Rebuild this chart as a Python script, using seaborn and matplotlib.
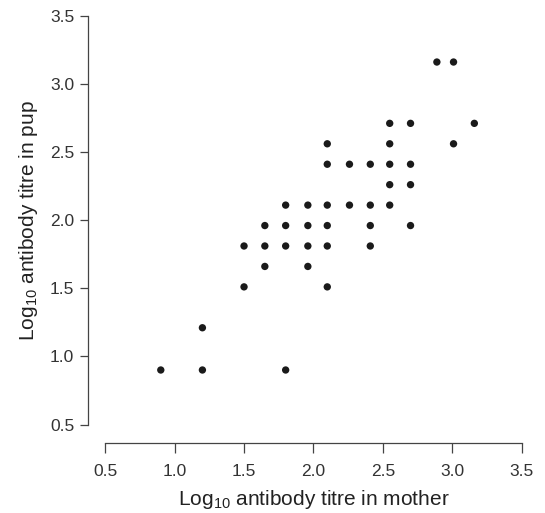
import matplotlib
matplotlib.use("Agg")
import matplotlib.pyplot as plt
import seaborn as sns
import pandas as pd

# Log10 antibody titre in mother (x) and pup (y)
mother = [2.89, 3.01,
          2.55, 2.70, 3.16,
          2.10, 2.55, 3.01,
          2.10, 2.26, 2.41, 2.55, 2.70,
          2.55, 2.70,
          1.80, 1.96, 2.10, 2.26, 2.41, 2.55,
          1.65, 1.80, 1.96, 2.10, 2.41, 2.70,
          1.50, 1.65, 1.80, 1.96, 2.10, 2.41,
          1.65, 1.96,
          1.50, 2.10,
          1.20,
          0.90, 1.20, 1.80]
pup = [3.16, 3.16,
       2.71, 2.71, 2.71,
       2.56, 2.56, 2.56,
       2.41, 2.41, 2.41, 2.41, 2.41,
       2.26, 2.26,
       2.11, 2.11, 2.11, 2.11, 2.11, 2.11,
       1.96, 1.96, 1.96, 1.96, 1.96, 1.96,
       1.81, 1.81, 1.81, 1.81, 1.81, 1.81,
       1.66, 1.66,
       1.51, 1.51,
       1.21,
       0.90, 0.90, 0.90]
ticks = [0.5, 1.0, 1.5, 2.0, 2.5, 3.0, 3.5]
tick_labels = ["0.5", "1.0", "1.5", "2.0", "2.5", "3.0", "3.5"]

df = pd.DataFrame({"mother": mother, "pup": pup})

sns.set_style("white")
plt.rcParams["font.family"] = ["Liberation Sans", "DejaVu Sans"]
plt.rcParams["mathtext.fontset"] = "custom"
plt.rcParams["mathtext.rm"] = "Liberation Sans"
plt.rcParams["mathtext.it"] = "Liberation Sans:italic"

fig = plt.figure(figsize=(5.45, 5.13), dpi=100)
ax = fig.add_axes([0.1932, 0.1725, 0.7637, 0.7969])

sns.scatterplot(data=df, x="mother", y="pup", ax=ax, color="#1a1a1a",
                s=28, edgecolor="none", linewidth=0)

ax.set_xlim(0.5, 3.5)
ax.set_ylim(0.5, 3.5)
ax.set_xticks(ticks)
ax.set_xticklabels(tick_labels)
ax.set_yticks(ticks)
ax.set_yticklabels(tick_labels)

for side in ["top", "right"]:
    ax.spines[side].set_visible(False)
ax.spines["left"].set_position(("outward", 12.5))
ax.spines["bottom"].set_position(("outward", 13.5))
for side in ["left", "bottom"]:
    ax.spines[side].set_color("#444444")
    ax.spines[side].set_linewidth(0.9)

ax.tick_params(axis="y", direction="out", length=5.8, width=0.9,
               color="#444444", labelsize=12.5, labelcolor="#333333", pad=4)
ax.tick_params(axis="x", direction="out", length=7, width=0.9,
               color="#444444", labelsize=12.5, labelcolor="#333333", pad=8)
ax.tick_params(left=True, bottom=True)

ax.set_xlabel(r"Log$_{10}$ antibody titre in mother", fontsize=15,
              color="#222222", labelpad=6.5)
ax.set_ylabel(r"Log$_{10}$ antibody titre in pup", fontsize=15,
              color="#222222", labelpad=7)

fig.savefig("out.png", dpi=100)
